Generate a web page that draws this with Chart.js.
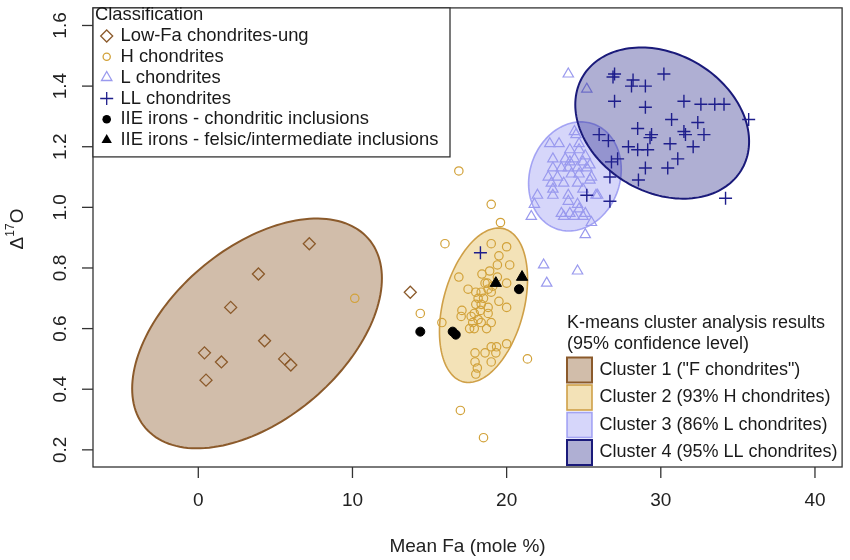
<!DOCTYPE html>
<html><head><meta charset="utf-8">
<script src="https://cdn.jsdelivr.net/npm/chart.js@4.4.1/dist/chart.umd.min.js"></script>
<style>html,body{margin:0;padding:0;background:#fff}#wrap{width:850px;height:560px}</style>
</head><body><div id="wrap"><canvas id="c" width="850" height="560"></canvas></div>
<script>
// ---------- data ----------
const lowFaPoints = [[7.2,0.88],[3.9,0.78],[2.1,0.67],[4.3,0.56],[0.4,0.52],[1.5,0.49],[5.6,0.50],[6.0,0.48],[0.5,0.43],[13.75,0.72]];
const hPoints = [[16.9,1.12],[19.0,1.01],[19.6,0.95],[16.0,0.88],[14.4,0.65],[15.8,0.62],[21.35,0.50],[17.0,0.33],[18.5,0.24],[10.15,0.70],
 [19.0,0.88],[20.0,0.87],[19.5,0.84],[20.2,0.81],[19.4,0.81],[18.4,0.78],[18.9,0.79],[19.4,0.77],[16.9,0.77],[18.6,0.75],[18.75,0.75],[20.0,0.75],
 [17.5,0.73],[18.0,0.72],[19.0,0.72],[18.5,0.70],[19.5,0.69],[18.0,0.68],[20.0,0.67],[18.8,0.67],[18.3,0.66],[17.1,0.66],[17.9,0.65],[17.05,0.64],
 [17.7,0.64],[17.8,0.62],[19.0,0.62],[17.6,0.60],[17.9,0.60],[18.7,0.60],[19.0,0.54],[19.35,0.54],[20.0,0.55],[19.3,0.52],[17.95,0.52],[18.6,0.52],
 [17.95,0.49],[19.0,0.49],[18.1,0.47],[18.0,0.45],[18.35,0.72],[18.8,0.73],[19.1,0.74],[18.15,0.70],[18.35,0.68],[18.8,0.65],[18.15,0.63],[18.35,0.62]];
const lPoints = [[24.0,1.44],[25.2,1.39],[22.8,1.21],[23.4,1.21],[24.1,1.19],[24.5,1.24],[24.7,1.19],[23.0,1.16],[23.8,1.16],[24.1,1.15],[24.4,1.16],
 [24.95,1.15],[25.4,1.14],[23.0,1.13],[23.55,1.13],[24.0,1.13],[24.6,1.13],[25.2,1.13],[22.7,1.10],[23.3,1.10],[24.2,1.11],[24.7,1.11],[25.4,1.09],
 [22.9,1.08],[23.7,1.08],[24.6,1.08],[23.0,1.06],[24.95,1.06],[22.0,1.04],[23.0,1.04],[24.0,1.04],[25.8,1.04],[21.8,1.01],[24.0,1.02],[24.6,1.01],
 [23.55,0.98],[24.1,0.98],[24.7,0.995],[25.1,0.98],[21.6,0.97],[23.7,0.97],[24.4,0.97],[24.95,0.97],[25.5,0.95],[25.1,0.91],[22.4,0.81],[24.6,0.79],
 [22.6,0.75],[24.4,1.25],[24.7,1.21],[25.1,1.17],[25.5,1.10],[25.9,1.04]];
const llPoints = [[27.0,1.44],[26.9,1.43],[28.2,1.42],[28.1,1.40],[29.0,1.40],[30.2,1.44],[27.0,1.35],[29.0,1.33],[31.5,1.35],[32.6,1.34],[33.5,1.34],
 [34.1,1.34],[35.7,1.29],[30.7,1.29],[32.4,1.28],[28.5,1.26],[31.5,1.25],[31.6,1.24],[32.8,1.24],[29.3,1.23],[29.4,1.24],[26.0,1.24],[26.6,1.22],
 [30.6,1.21],[32.1,1.20],[27.9,1.20],[28.5,1.19],[29.15,1.19],[31.1,1.16],[30.45,1.13],[29.0,1.13],[27.2,1.16],[26.8,1.15],[26.7,1.10],[28.55,1.09],
 [34.2,1.03],[25.2,1.04],[26.7,1.02],[18.3,0.85]];
const iieChondriticPoints = [[14.4,0.59],[16.5,0.59],[16.7,0.58],[20.8,0.73]];
const iieFelsicPoints = [[19.3,0.75],[21.0,0.77]];

// cluster confidence ellipses: centre, half-extent in x, half-extent in y, correlation
const ellipseCenters = [[3.81,0.584],[18.50,0.677],[24.43,1.102],[30.09,1.278]];
const ellipseHalfX = [8.10, 2.857, 3.006, 5.637];
const ellipseHalfY = [0.379, 0.2547, 0.180, 0.2494];
const ellipseCorr = [0.48, 0.34, 0.13, -0.243];

const xTicks = [0,10,20,30,40];
const yTicks = [0.2,0.4,0.6,0.8,1.0,1.2,1.4,1.6];
const yTickLabels = ['0.2','0.4','0.6','0.8','1.0','1.2','1.4','1.6'];
const classLegendTitle = 'Classification';
const classLegendLabels = ['Low-Fa chondrites-ung','H chondrites','L chondrites','LL chondrites','IIE irons - chondritic inclusions','IIE irons - felsic/intermediate inclusions'];
const clusterLegendTitle = ['K-means cluster analysis results','(95% confidence level)'];
const clusterLegendLabels = ['Cluster 1 ("F chondrites")','Cluster 2 (93% H chondrites)','Cluster 3 (86% L chondrites)','Cluster 4 (95% LL chondrites)'];
const xTitle = 'Mean Fa (mole %)';

// ---------- styles ----------
const COL_LOWFA = '#8b5a2b', COL_H = '#d2a23a', COL_L = '#9a9aee', COL_LL = '#1e1e8c', COL_IIE = '#000000';
const ellipseFill = ['rgba(139,90,43,0.40)','rgba(218,165,32,0.32)','rgba(120,120,240,0.30)','rgba(26,26,128,0.35)'];
const ellipseStroke = ['#8b5a2b','#cfa048','rgba(140,140,240,0.75)','#1a1a7a'];
const ellipseWidth = [2,1.6,1.6,2];
const FONT = '"Liberation Sans", Arial, sans-serif';

const toXY = a => a.map(p => ({x:p[0], y:p[1]}));

function ellipsePath(chart, i){
  const xs = chart.scales.x, ys = chart.scales.y, ctx = chart.ctx;
  const c = ellipseCenters[i], rx = ellipseHalfX[i], ry = ellipseHalfY[i], r = ellipseCorr[i];
  const s = Math.sqrt(1 - r*r);
  ctx.beginPath();
  for (let k = 0; k <= 160; k++){
    const t = k/160*2*Math.PI;
    const px = xs.getPixelForValue(c[0] + rx*Math.cos(t));
    const py = ys.getPixelForValue(c[1] + ry*(r*Math.cos(t) + s*Math.sin(t)));
    if (k) ctx.lineTo(px,py); else ctx.moveTo(px,py);
  }
  ctx.closePath();
}
function drawEllipse(chart, i){
  const ctx = chart.ctx;
  ctx.save();
  ellipsePath(chart, i);
  ctx.fillStyle = ellipseFill[i]; ctx.fill();
  ctx.lineWidth = ellipseWidth[i]; ctx.strokeStyle = ellipseStroke[i]; ctx.stroke();
  ctx.restore();
}
function marker(ctx, type, x, y, r, color){
  ctx.save();
  ctx.strokeStyle = color; ctx.fillStyle = color; ctx.lineWidth = 1.3;
  ctx.beginPath();
  if (type === 'diamond'){ ctx.moveTo(x, y-r); ctx.lineTo(x+r, y); ctx.lineTo(x, y+r); ctx.lineTo(x-r, y); ctx.closePath(); ctx.stroke(); }
  else if (type === 'circle'){ ctx.arc(x, y, r, 0, 2*Math.PI); ctx.stroke(); }
  else if (type === 'triangle' || type === 'ftriangle'){
    const h = r*1.5, w = r*Math.sqrt(3)/2;
    ctx.moveTo(x, y - r); ctx.lineTo(x + w, y + r/2); ctx.lineTo(x - w, y + r/2); ctx.closePath();
    if (type === 'ftriangle') ctx.fill(); else ctx.stroke();
  }
  else if (type === 'cross'){ ctx.moveTo(x-r, y); ctx.lineTo(x+r, y); ctx.moveTo(x, y-r); ctx.lineTo(x, y+r); ctx.stroke(); }
  else if (type === 'dot'){ ctx.arc(x, y, r, 0, 2*Math.PI); ctx.fill(); }
  ctx.restore();
}

const rPlot = {
  id: 'rplot',
  beforeDatasetsDraw(chart){ drawEllipse(chart,0); drawEllipse(chart,1); drawEllipse(chart,2); },
  afterDatasetDraw(chart, args){
    if (chart.data.datasets[args.index].label === classLegendLabels[2]){
      const a = chart.chartArea, ctx = chart.ctx;
      ctx.save(); ctx.beginPath(); ctx.rect(a.left, a.top, a.right-a.left, a.bottom-a.top); ctx.clip();
      drawEllipse(chart,3); ctx.restore();
    }
  },
  afterDraw(chart){
    const ctx = chart.ctx, a = chart.chartArea, xs = chart.scales.x, ys = chart.scales.y;
    ctx.save();
    // plot box
    ctx.strokeStyle = '#333'; ctx.lineWidth = 1.3;
    ctx.strokeRect(a.left, a.top, a.right - a.left, a.bottom - a.top);
    // x axis ticks + labels
    ctx.fillStyle = '#222'; ctx.font = '19px ' + FONT; ctx.textAlign = 'center'; ctx.textBaseline = 'middle';
    xTicks.forEach(v => {
      const px = xs.getPixelForValue(v);
      ctx.beginPath(); ctx.moveTo(px, a.bottom); ctx.lineTo(px, a.bottom + 11); ctx.stroke();
      ctx.fillText(String(v), px, 501);
    });
    // y axis ticks + rotated labels
    yTicks.forEach((v, i) => {
      const py = ys.getPixelForValue(v);
      ctx.beginPath(); ctx.moveTo(a.left - 11, py); ctx.lineTo(a.left, py); ctx.stroke();
      ctx.save(); ctx.translate(61, py); ctx.rotate(-Math.PI/2);
      ctx.fillText(yTickLabels[i], 0, 0); ctx.restore();
    });
    // x title
    ctx.fillText(xTitle, (a.left + a.right)/2, 547);
    // y title  Δ17O
    ctx.save(); ctx.translate(18, 229); ctx.rotate(-Math.PI/2);
    ctx.textAlign = 'left'; ctx.textBaseline = 'middle';
    ctx.font = '19px ' + FONT; const wD = ctx.measureText('Δ').width, wO = ctx.measureText('O').width;
    ctx.font = '12px ' + FONT; const wS = ctx.measureText('17').width;
    const tot = wD + wS + wO; let x0 = -tot/2;
    ctx.font = '19px ' + FONT; ctx.fillText('Δ', x0, 0); x0 += wD;
    ctx.font = '12px ' + FONT; ctx.fillText('17', x0, -7); x0 += wS;
    ctx.font = '19px ' + FONT; ctx.fillText('O', x0, 0);
    ctx.restore();

    // classification legend (boxed, top-left)
    ctx.fillStyle = '#fff'; ctx.fillRect(a.left, a.top, 357, 149);
    ctx.strokeStyle = '#333'; ctx.lineWidth = 1.3; ctx.strokeRect(a.left, a.top, 357, 149);
    ctx.fillStyle = '#1a1a1a'; ctx.font = '18.4px ' + FONT; ctx.textAlign = 'left'; ctx.textBaseline = 'middle';
    ctx.fillText(classLegendTitle, 95, 15);
    const rowsY = [36, 56.7, 77.5, 98.5, 119.3, 140];
    const mk = [['diamond',6,COL_LOWFA],['circle',3.6,COL_H],['triangle',6,COL_L],['cross',6.5,COL_LL],['dot',4.3,COL_IIE],['ftriangle',6,COL_IIE]];
    classLegendLabels.forEach((t, i) => {
      marker(ctx, mk[i][0], 106.7, rowsY[i], mk[i][1], mk[i][2]);
      ctx.fillStyle = '#1a1a1a'; ctx.fillText(t, 120.5, rowsY[i]);
    });

    // cluster legend (no box, bottom-right)
    ctx.font = '18px ' + FONT; ctx.fillStyle = '#1a1a1a';
    ctx.fillText(clusterLegendTitle[0], 567, 323.5);
    ctx.fillText(clusterLegendTitle[1], 567, 344.5);
    const cy = [370, 397.5, 425, 452.5];
    clusterLegendLabels.forEach((t, i) => {
      ctx.fillStyle = '#fff'; ctx.fillRect(567, cy[i]-12.5, 25, 25);
      ctx.fillStyle = ellipseFill[i]; ctx.fillRect(567, cy[i]-12.5, 25, 25);
      ctx.strokeStyle = ellipseStroke[i]; ctx.lineWidth = ellipseWidth[i];
      ctx.strokeRect(567, cy[i]-12.5, 25, 25);
      ctx.fillStyle = '#1a1a1a'; ctx.fillText(t, 599.5, cy[i]);
    });
    ctx.restore();
  }
};

new Chart(document.getElementById('c'), {
  type: 'scatter',
  data: { datasets: [
    { label: classLegendLabels[5], data: toXY(iieFelsicPoints), order: 1, pointStyle: 'triangle', pointRadius: 6.5,
      borderColor: COL_IIE, backgroundColor: COL_IIE, borderWidth: 1 },
    { label: classLegendLabels[4], data: toXY(iieChondriticPoints), order: 2, pointStyle: 'circle', pointRadius: 4.5,
      borderColor: COL_IIE, backgroundColor: COL_IIE, borderWidth: 1 },
    { label: classLegendLabels[0], data: toXY(lowFaPoints), order: 3, pointStyle: 'rectRot', pointRadius: 6,
      borderColor: COL_LOWFA, backgroundColor: 'rgba(0,0,0,0)', borderWidth: 1.3 },
    { label: classLegendLabels[1], data: toXY(hPoints), order: 4, pointStyle: 'circle', pointRadius: 4.2,
      borderColor: COL_H, backgroundColor: 'rgba(0,0,0,0)', borderWidth: 1.2 },
    { label: classLegendLabels[3], data: toXY(llPoints), order: 5, pointStyle: 'cross', pointRadius: 6.5,
      borderColor: COL_LL, backgroundColor: COL_LL, borderWidth: 1.4 },
    { label: classLegendLabels[2], data: toXY(lPoints), order: 6, pointStyle: 'triangle', pointRadius: 6,
      borderColor: COL_L, backgroundColor: 'rgba(0,0,0,0)', borderWidth: 1.2 }
  ]},
  options: {
    responsive: false, animation: false,
    layout: { padding: { left: 93, right: 5, top: 4, bottom: 93 } },
    scales: {
      x: { type: 'linear', min: -6.83, max: 41.76, display: false },
      y: { type: 'linear', min: 0.1434, max: 1.658, display: false }
    },
    plugins: { legend: { display: false }, tooltip: { enabled: false } },
    elements: { point: { hoverRadius: 6 } }
  },
  plugins: [rPlot]
});
</script>
</body></html>
